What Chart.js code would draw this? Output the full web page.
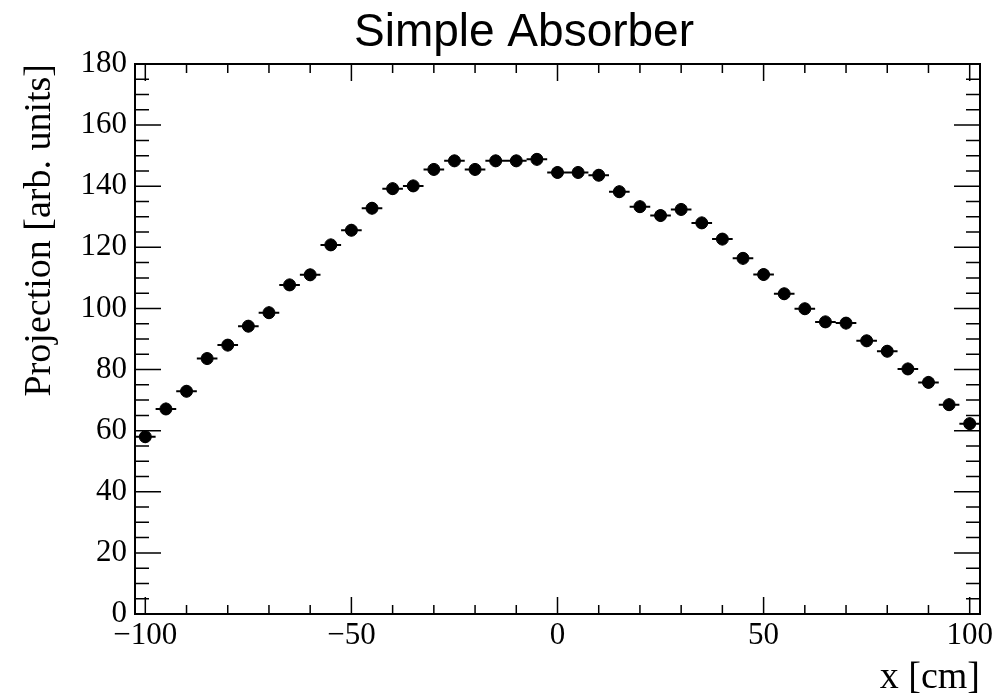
<!DOCTYPE html>
<html lang="en">
<head>
  <meta charset="UTF-8">
  <title>Simple Absorber</title>
  <script src="https://cdn.jsdelivr.net/npm/chart.js"></script>
  <style>
    html, body { margin: 0; padding: 0; background: #fff; }
    #wrap { width: 1006px; height: 697px; }
  </style>
</head>
<body>
  <div id="wrap"><canvas id="chart" width="1006" height="697"></canvas></div>

  <script>
    const titleText = "Simple Absorber";
    // bin centres (5 cm bins)
    const xCenters = [-100, -95, -90, -85, -80, -75, -70, -65, -60, -55, -50, -45, -40, -35, -30, -25, -20, -15, -10, -5,
                      0, 5, 10, 15, 20, 25, 30, 35, 40, 45, 50, 55, 60, 65, 70, 75, 80, 85, 90, 95, 100];
    const projection = [58.0, 67.1, 72.9, 83.6, 88.0, 94.2, 98.6, 107.7, 111.0, 120.8, 125.6, 132.8, 139.2, 140.1, 145.5, 148.3, 145.5, 148.3, 148.3, 148.8,
                        144.5, 144.5, 143.6, 138.2, 133.3, 130.4, 132.4, 128.0, 122.7, 116.4, 111.1, 104.8, 99.9, 95.6, 95.2, 89.4, 86.0, 80.2, 75.8, 68.5, 62.3];
    const yError = 2;
    const binHalfWidth = 2.5;
    const xMajorTicks = [-100, -50, 0, 50, 100];
    const xMinorStep = 10;
    const yMajorStep = 20;
    const yMinorStep = 5;

    Chart.defaults.color = "#000";

    // horizontal (bin width) and vertical error bars
    const errorBars = {
      id: "errorBars",
      beforeDatasetsDraw(chart) {
        const { ctx, scales: { x, y } } = chart;
        ctx.save();
        ctx.strokeStyle = "#000";
        ctx.lineWidth = 2;
        ctx.beginPath();
        xCenters.forEach((xc, i) => {
          const px = x.getPixelForValue(xc);
          const py = y.getPixelForValue(projection[i]);
          ctx.moveTo(x.getPixelForValue(xc - binHalfWidth), py);
          ctx.lineTo(x.getPixelForValue(xc + binHalfWidth), py);
          ctx.moveTo(px, y.getPixelForValue(projection[i] - yError));
          ctx.lineTo(px, y.getPixelForValue(projection[i] + yError));
        });
        ctx.stroke();
        ctx.restore();
      }
    };

    // ROOT style frame with inward ticks on all sides, plus the title
    const rootFrame = {
      id: "rootFrame",
      afterDraw(chart) {
        const { ctx, chartArea: a, scales: { x, y } } = chart;
        ctx.save();
        ctx.strokeStyle = "#000";
        ctx.lineWidth = 1.5;
        ctx.beginPath();
        for (let v = -100; v <= 100; v += xMinorStep) {
          const len = xMajorTicks.includes(v) ? 17 : 9;
          const px = x.getPixelForValue(v);
          ctx.moveTo(px, a.bottom); ctx.lineTo(px, a.bottom - len);
          ctx.moveTo(px, a.top); ctx.lineTo(px, a.top + len);
        }
        for (let v = 0; v <= 180; v += yMinorStep) {
          const len = v % yMajorStep === 0 ? 26 : 14;
          const py = y.getPixelForValue(v);
          ctx.moveTo(a.left, py); ctx.lineTo(a.left + len, py);
          ctx.moveTo(a.right, py); ctx.lineTo(a.right - len, py);
        }
        ctx.stroke();
        ctx.lineWidth = 2;
        ctx.strokeRect(a.left, a.top, a.right - a.left, a.bottom - a.top);

        ctx.fillStyle = "#000";
        ctx.font = '46px "Liberation Sans", Arial, sans-serif';
        ctx.textAlign = "center";
        ctx.textBaseline = "alphabetic";
        ctx.fillText(titleText, 524, 46);
        ctx.restore();
      }
    };

    const serif = '"Liberation Serif", "Times New Roman", serif';

    new Chart(document.getElementById("chart"), {
      type: "scatter",
      data: {
        datasets: [{
          data: xCenters.map((xc, i) => ({ x: xc, y: projection[i] })),
          backgroundColor: "#000",
          borderColor: "#000",
          pointRadius: 6,
          pointHoverRadius: 6,
          showLine: false
        }]
      },
      options: {
        responsive: false,
        animation: false,
        layout: { padding: { top: 64, right: 26, bottom: 0, left: 0 } },
        plugins: {
          legend: { display: false },
          tooltip: { enabled: false },
          title: { display: false }
        },
        scales: {
          x: {
            type: "linear",
            min: -102.5,
            max: 102.5,
            afterBuildTicks: s => { s.ticks = xMajorTicks.map(v => ({ value: v })); },
            afterFit: s => { s.height = 83; },
            grid: { display: false, drawTicks: false },
            border: { display: false },
            ticks: {
              font: { family: serif, size: 31 },
              padding: 3,
              maxRotation: 0,
              autoSkip: false,
              callback: v => String(v).replace("-", "\u2212")
            },
            title: {
              display: true,
              text: "x [cm]",
              align: "end",
              font: { family: serif, size: 38, lineHeight: 1 },
              padding: { top: 0, bottom: 0 }
            }
          },
          y: {
            min: 0,
            max: 180,
            afterFit: s => { s.width = 135; },
            grid: { display: false, drawTicks: false },
            border: { display: false },
            ticks: {
              stepSize: yMajorStep,
              font: { family: serif, size: 31 },
              padding: 8
            },
            title: {
              display: true,
              text: "Projection [arb. units]",
              align: "end",
              font: { family: serif, size: 38, lineHeight: 1 },
              padding: { top: 21, bottom: 0 }
            }
          }
        }
      },
      plugins: [errorBars, rootFrame]
    });
  </script>
</body>
</html>
